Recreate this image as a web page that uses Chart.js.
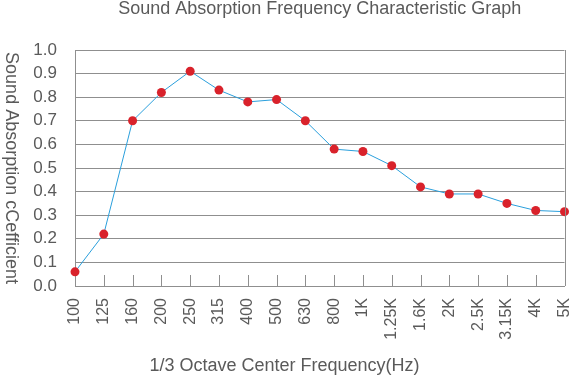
<!DOCTYPE html>
<html><head><meta charset="utf-8">
<script src="https://cdn.jsdelivr.net/npm/chart.js@4/dist/chart.umd.min.js"></script>
<style>html,body{margin:0;padding:0;background:#fff}#wrap{width:569px;height:378px}</style>
</head><body><div id="wrap"><canvas id="c" width="569" height="378"></canvas></div>
<script>
const categories = ["100","125","160","200","250","315","400","500","630","800","1K","1.25K","1.6K","2K","2.5K","3.15K","4K","5K"];
const absorption = [0.06,0.22,0.70,0.82,0.91,0.83,0.78,0.79,0.70,0.58,0.57,0.51,0.42,0.39,0.39,0.35,0.32,0.315];
const yTicks = [0,0.1,0.2,0.3,0.4,0.5,0.6,0.7,0.8,0.9,1.0];
const titleText = "Sound Absorption Frequency Characteristic Graph";
const yTitle = "Sound Absorption cCefficient";
const xTitle = "1/3 Octave Center Frequency(Hz)";

const FONT = "'Liberation Sans', Arial, sans-serif";
const TXT = '#5a5a5a';
const GRID = '#8f8f8f';

const frame = {
  id: 'frame',
  afterDraw(chart) {
    const {ctx, chartArea: a, scales: {x}} = chart;
    ctx.save();
    ctx.strokeStyle = GRID;
    ctx.lineWidth = 1;
    // right border
    ctx.beginPath();
    ctx.moveTo(Math.round(a.right) + 0.5, a.top);
    ctx.lineTo(Math.round(a.right) + 0.5, a.bottom);
    ctx.stroke();
    // inward ticks on x axis
    for (let i = 1; i < categories.length - 1; i++) {
      const px = Math.round(x.getPixelForValue(i)) + 0.5;
      ctx.beginPath();
      ctx.moveTo(px, a.bottom);
      ctx.lineTo(px, a.bottom - 11);
      ctx.stroke();
    }
    ctx.fillStyle = TXT;
    ctx.font = "18px " + FONT;
    ctx.textAlign = 'center';
    ctx.textBaseline = 'middle';
    // x title, centred on the canvas
    ctx.fillText(xTitle, chart.width / 2, 366);
    // y title, rotated clockwise
    ctx.translate(11, (a.top + a.bottom) / 2);
    ctx.rotate(Math.PI / 2);
    ctx.fillText(yTitle, 0, 0);
    ctx.restore();
  }
};

new Chart(document.getElementById('c'), {
  type: 'line',
  data: {
    labels: categories,
    datasets: [{
      data: absorption,
      borderColor: '#2a9fdc',
      borderWidth: 1,
      tension: 0,
      pointBackgroundColor: '#d9222b',
      pointBorderColor: '#d9222b',
      pointBorderWidth: 0,
      pointRadius: 4.5,
      clip: false
    }]
  },
  options: {
    responsive: false,
    animation: false,
    events: [],
    layout: {padding: {left: 0, right: 3, top: 0, bottom: 0}},
    plugins: {
      legend: {display: false},
      tooltip: {enabled: false},
      title: {
        display: true,
        fullSize: false,
        text: titleText,
        color: TXT,
        font: {family: FONT, size: 18, weight: 'normal', lineHeight: 1},
        padding: {top: 0, bottom: 32}
      }
    },
    scales: {
      x: {
        type: 'category',
        offset: false,
        grid: {display: false, drawTicks: false},
        border: {display: true, color: GRID, width: 1},
        ticks: {
          color: TXT,
          font: {family: FONT, size: 16},
          minRotation: 90, maxRotation: 90,
          padding: 12,
          autoSkip: false
        },
        afterFit(s) { s.height = 92; s.paddingLeft = 0; s.paddingRight = 0; }
      },
      y: {
        min: 0, max: 1,
        afterBuildTicks(s) { s.ticks = yTicks.map(v => ({value: v})); },
        grid: {color: GRID, lineWidth: 1, drawTicks: false},
        border: {display: true, color: GRID, width: 1},
        ticks: {
          color: TXT,
          font: {family: FONT, size: 17},
          padding: 18,
          callback: v => Number(v).toFixed(1)
        },
        afterFit(s) { s.width = 75; s.paddingTop = 0; s.paddingBottom = 0; }
      }
    }
  },
  plugins: [frame]
});
</script>
</body></html>
